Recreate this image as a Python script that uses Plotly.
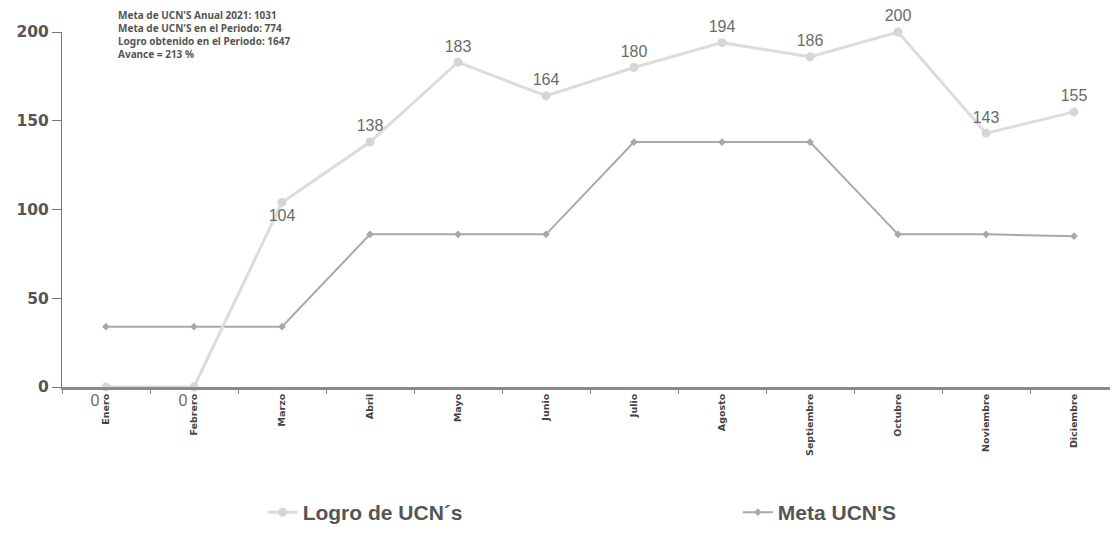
import plotly.graph_objects as go

meses = ["Enero", "Febrero", "Marzo", "Abril", "Mayo", "Junio", "Julio",
         "Agosto", "Septiembre", "Octubre", "Noviembre", "Diciembre"]
logro = [0, 0, 104, 138, 183, 164, 180, 194, 186, 200, 143, 155]
meta = [34, 34, 34, 86, 86, 86, 138, 138, 138, 86, 86, 85]
logro_pos = ["bottom left", "bottom left", "bottom center"] + ["top center"] * 9
y_ticks = [0, 50, 100, 150, 200]
nota = ["Meta de UCN'S Anual 2021: 1031",
        "Meta de UCN'S en el Periodo: 774",
        "Logro obtenido en el Periodo: 1647",
        "Avance = 213 %"]

fig = go.Figure()
fig.add_trace(go.Scatter(
    x=meses, y=meta, name="Meta UCN'S", mode="lines+markers",
    line=dict(color="#a9a9a9", width=2),
    marker=dict(symbol="diamond", size=6, color="#a9a9a9"),
    legend="legend2", cliponaxis=False))
fig.add_trace(go.Scatter(
    x=meses, y=logro, name="Logro de UCN´s", mode="lines+markers+text",
    text=[str(v) for v in logro], textposition=logro_pos,
    textfont=dict(family="Liberation Sans", size=16, color="#6b6b6b"),
    line=dict(color="#dcdcdc", width=3),
    marker=dict(symbol="circle", size=9, color="#d6d6d6"),
    legend="legend", cliponaxis=False))

legfont = dict(family="Liberation Sans", size=21, color="#555", weight="bold")
fig.update_layout(
    width=1110, height=525, paper_bgcolor="white", plot_bgcolor="white",
    margin=dict(l=54, r=0, t=24, b=139),
    font=dict(family="Liberation Sans", color="#555"),
    showlegend=True,
    legend=dict(orientation="h", x=0.19, xanchor="left", y=-0.355, yanchor="middle",
                font=legfont, bgcolor="rgba(0,0,0,0)", itemwidth=30),
    legend2=dict(orientation="h", x=0.64, xanchor="left", y=-0.355, yanchor="middle",
                 font=legfont, bgcolor="rgba(0,0,0,0)", itemwidth=30),
)
fig.update_xaxes(
    type="category", range=[-0.5, 11.5], showgrid=False,
    showline=True, linecolor="#8a8a8a", linewidth=3,
    ticks="outside", ticklen=4, tickcolor="#8a8a8a", tickson="boundaries",
    tickangle=-90, tickfont=dict(family="DejaVu Sans", size=9.5, color="#444", weight="bold"),
    zeroline=False)
fig.update_yaxes(
    range=[0, 200], tickvals=y_ticks, showgrid=False,
    showline=True, linecolor="#777", linewidth=1,
    ticks="outside", ticklen=9, tickcolor="#777",
    tickfont=dict(family="DejaVu Sans", size=15.5, color="#555", weight="bold"),
    zeroline=False)

fig.add_annotation(
    xref="paper", yref="paper", x=0.051, y=1.072, xanchor="left", yanchor="top",
    text="<br>".join("<b>" + s + "</b>" for s in nota), showarrow=False, align="left",
    font=dict(family="Noto Sans", size=10, color="#555"))

fig.write_html("out.html")
